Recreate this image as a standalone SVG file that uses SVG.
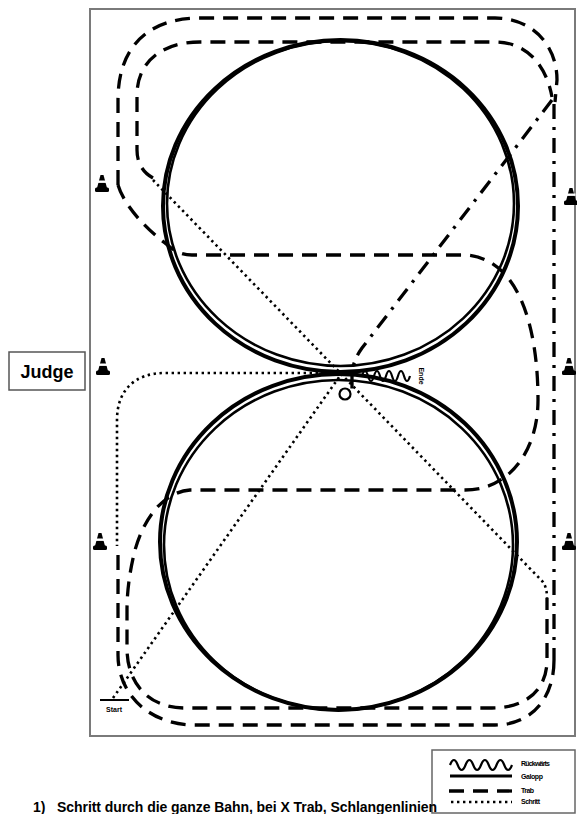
<svg xmlns="http://www.w3.org/2000/svg" width="577" height="814" viewBox="0 0 577 814">
<style>
.trab{fill:none;stroke:#000;stroke-width:3.3;stroke-dasharray:15 9}
.dd{fill:none;stroke:#000;stroke-width:3.3;stroke-dasharray:15 8 3 8}
.schritt{fill:none;stroke:#000;stroke-width:2.6;stroke-dasharray:2.4 3.6}
.gal{fill:none;stroke:#000}
.lbl{font-family:"Liberation Sans",Arial,sans-serif;font-weight:bold;fill:#000}
</style>
<defs>
<g id="cone">
<path d="M-1.5,-17 L1.5,-17 L5,-4 L-5,-4 Z" fill="#000"/>
<rect x="-4.5" y="-11.5" width="9" height="2.4" fill="#fff"/>
<rect x="-7" y="-4.5" width="14" height="4.5" rx="1.5" fill="#000"/>
</g>
</defs>
<rect width="577" height="814" fill="#fff"/>
<g id="arena">
<rect x="90" y="9" width="485" height="727" fill="none" stroke="#7a7a7a" stroke-width="2"/>
</g>
<g id="judge">
<rect x="9" y="352" width="76" height="38" fill="#fff" stroke="#555" stroke-width="1.5"/>
<text class="lbl" x="47" y="378" text-anchor="middle" font-size="18" textLength="53">Judge</text>
</g>
<g id="cones">
<use href="#cone" x="102" y="192"/>
<use href="#cone" x="103" y="375"/>
<use href="#cone" x="100" y="550"/>
<use href="#cone" x="571" y="205"/>
<use href="#cone" x="569" y="375"/>
<use href="#cone" x="569" y="550"/>
</g>
<g id="circles">
<ellipse class="gal" cx="340.5" cy="206" rx="177.5" ry="166" stroke-width="4"/>
<ellipse class="gal" cx="340.5" cy="203.5" rx="173.5" ry="162.5" stroke-width="2.6"/>
<ellipse class="gal" cx="338.5" cy="542" rx="178.5" ry="168" stroke-width="4"/>
<ellipse class="gal" cx="338.5" cy="545" rx="174.5" ry="165" stroke-width="2.6"/>
</g>
<g id="connectors">
<path class="trab" d="M118,185 L118,100 C118,45 150,18 200,18 L495,18 C532,18 557,45 557,80 L555,102"/>
<path class="dd" d="M554,104 L554,660"/>
<path class="trab" d="M554,660 C554,700 530,725 495,725 L195,725 C150,725 118,695 118,655 L118,548"/>
<path class="trab" d="M118,185 C124,205 145,228 165,243 C173,250 180,255 192,255 L465,255 C520,258 538,330 538,400 C538,450 510,490 465,490 L190,490 C165,492 145,515 135,550 C130,570 127,590 127,610 L127,648 C127,685 150,708 185,708 L492,708 C526,708 547,690 547,660 L547,598"/>
<path class="trab" d="M153,178 C142,172 137,162 137,150 L137,95 C137,62 162,42 200,42 L495,42 C526,42 546,64 552,97"/>
<path class="dd" d="M552,100 L362,348 Q352,362 352,376 L352,390"/>
<path class="schritt" d="M113,698 L342,373"/>
<path class="schritt" d="M342,373 L165,373 C135,373 117,390 117,420 L117,546"/>
<path class="schritt" d="M153,180 L543,582 Q547,588 547,598"/>
<path class="gal" stroke-width="2.2" d="M362,376 q3,-10 6,0 t6,0 t6,0 t6,0 t6,0 t6,0 t6,0 t6,0"/>
<circle cx="345" cy="394" r="5.5" fill="none" stroke="#000" stroke-width="2.2"/>
</g>
<g id="ende">
<text class="lbl" transform="translate(421,376) rotate(90)" text-anchor="middle" font-size="7" dy="2.5">Ende</text>
</g>
<g id="start">
<path d="M100,700 L129,700" stroke="#000" stroke-width="2"/>
<text class="lbl" x="114" y="712" text-anchor="middle" font-size="7">Start</text>
</g>
<g id="legend">
<rect x="432" y="750" width="143" height="63" fill="none" stroke="#666" stroke-width="1.5"/>
<path class="gal" stroke-width="2.2" d="M450,765 q3.9,-10 7.75,0 t7.75,0 t7.75,0 t7.75,0 t7.75,0 t7.75,0 t7.75,0 t7.75,0"/>
<path class="gal" stroke-width="3.2" d="M450,776 L512,776"/>
<path class="trab" stroke-dasharray="15 9.5" d="M449,791 L513,791"/>
<path class="schritt" d="M451,802 L512,802"/>
<text class="lbl" x="521" y="766" font-size="7" textLength="29">Rückwärts</text>
<text class="lbl" x="521" y="779" font-size="7" textLength="22">Galopp</text>
<text class="lbl" x="521" y="793" font-size="7" textLength="13">Trab</text>
<text class="lbl" x="521" y="804" font-size="7" textLength="19">Schritt</text>
</g>
<g id="caption">
<text x="33" y="812" font-family="Liberation Sans, Arial, sans-serif" font-size="14" font-weight="bold">1)</text>
<text x="57" y="812" font-family="Liberation Sans, Arial, sans-serif" font-size="14" font-weight="bold" textLength="380">Schritt durch die ganze Bahn, bei X Trab, Schlangenlinien</text>
</g>
</svg>
